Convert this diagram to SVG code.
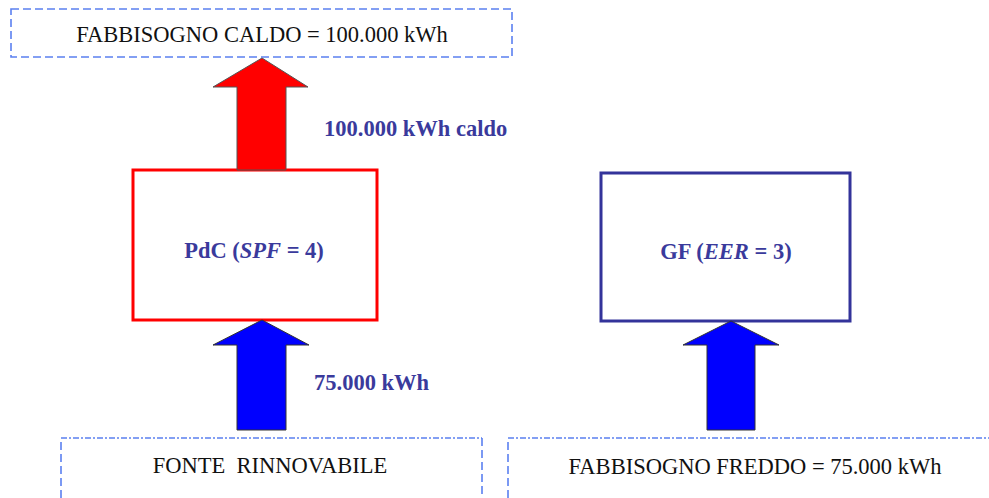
<svg xmlns="http://www.w3.org/2000/svg" width="989" height="498" viewBox="0 0 989 498">
<style>
.dash{fill:none;stroke:#5b80f0;stroke-width:1.6;stroke-dasharray:8 4}
.dashtop{fill:none;stroke:#5b80f0;stroke-width:1.6;stroke-dasharray:6 2 2 2}
.t{font-family:"Liberation Serif","Times New Roman",serif;font-size:22.5px;fill:#111;text-anchor:middle}
.b{font-family:"Liberation Serif","Times New Roman",serif;font-size:22.5px;font-weight:bold;fill:#3a3a9c}
.red{fill:#ff0000;stroke:#555;stroke-width:1}
.blue{fill:#0000ff;stroke:#333;stroke-width:1}
</style>
<rect width="989" height="498" fill="#fff"/>
<g id="caldo">
<rect class="dash" x="11" y="9" width="501" height="48"/>
<text class="t" x="262" y="42">FABBISOGNO CALDO = 100.000 kWh</text>
</g>
<g id="pdc">
<rect x="133" y="170" width="244" height="150" fill="#fff" stroke="#ff0000" stroke-width="3"/>
<text class="b" x="254" y="258" text-anchor="middle">PdC (<tspan font-style="italic">SPF</tspan> = 4)</text>
</g>
<g id="gf">
<rect x="601" y="173" width="249" height="148" fill="#fff" stroke="#33339a" stroke-width="3"/>
<text class="b" x="726" y="259" text-anchor="middle">GF (<tspan font-style="italic">EER</tspan> = 3)</text>
</g>
<g id="fonte">
<path class="dash" d="M61 510 V438 M482 438 V510"/>
<path class="dashtop" d="M61 438 H482"/>
<text class="t" x="270" y="473" xml:space="preserve">FONTE  RINNOVABILE</text>
</g>
<g id="freddo">
<path class="dash" d="M508 510 V438"/>
<path class="dashtop" d="M508 438 H995"/>
<text class="t" x="755" y="474">FABBISOGNO FREDDO = 75.000 kWh</text>
</g>
<g id="connectors">
<polygon class="red" points="237,170 237,87 213,87 262,58 308,87 286,87 286,170"/>
<polygon class="blue" points="237,430 237,345 213,345 262,320 309,345 286,345 286,430"/>
<polygon class="blue" points="707,430 707,345 683,345 731,321 779,345 755,345 755,430"/>
<text class="b" x="324" y="136">100.000 kWh caldo</text>
<text class="b" x="314" y="390">75.000 kWh</text>
</g>
</svg>
